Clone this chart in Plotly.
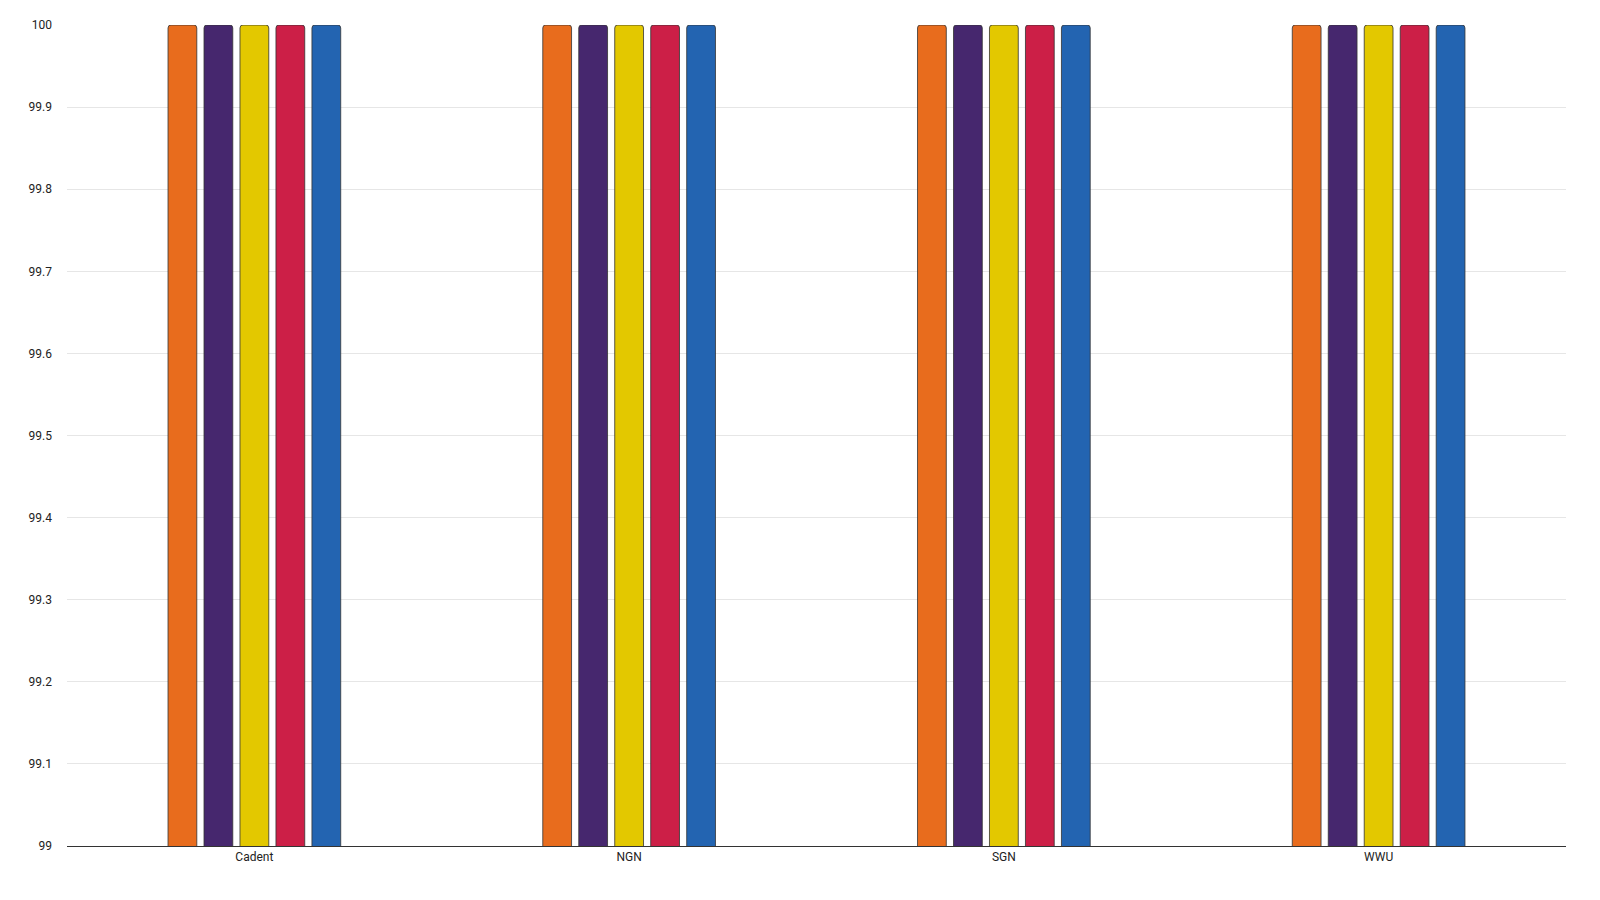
import plotly.graph_objects as go

categories = ["Cadent", "NGN", "SGN", "WWU"]
series_names = ["Series 1", "Series 2", "Series 3", "Series 4", "Series 5"]
series_values = [
    [100, 100, 100, 100],
    [100, 100, 100, 100],
    [100, 100, 100, 100],
    [100, 100, 100, 100],
    [100, 100, 100, 100],
]
colors = ["#e86c1d", "#46276e", "#e3c800", "#cc1f47", "#2364b1"]
tick_vals = [99, 99.1, 99.2, 99.3, 99.4, 99.5, 99.6, 99.7, 99.8, 99.9, 100]

fig = go.Figure()
for name, vals, c in zip(series_names, series_values, colors):
    fig.add_trace(go.Bar(
        x=categories, y=vals, name=name,
        marker=dict(color=c, line=dict(color="#333", width=0.8), cornerradius=3),
    ))

fig.update_layout(
    width=1600, height=900,
    barmode="group", bargap=0.52, bargroupgap=0.2,
    showlegend=False,
    plot_bgcolor="white", paper_bgcolor="white",
    margin=dict(l=59, r=42, t=10, b=62),
    font=dict(family="Roboto", size=12, color="#222"),
    xaxis=dict(showline=True, linecolor="#333", linewidth=1, ticks=""),
    yaxis=dict(range=[99, 100], tickvals=tick_vals,
               ticktext=[f"{v:g}" for v in tick_vals],
               gridcolor="#e6e6e6", zeroline=False, ticklabelstandoff=14),
)

fig.write_html("out.html")
